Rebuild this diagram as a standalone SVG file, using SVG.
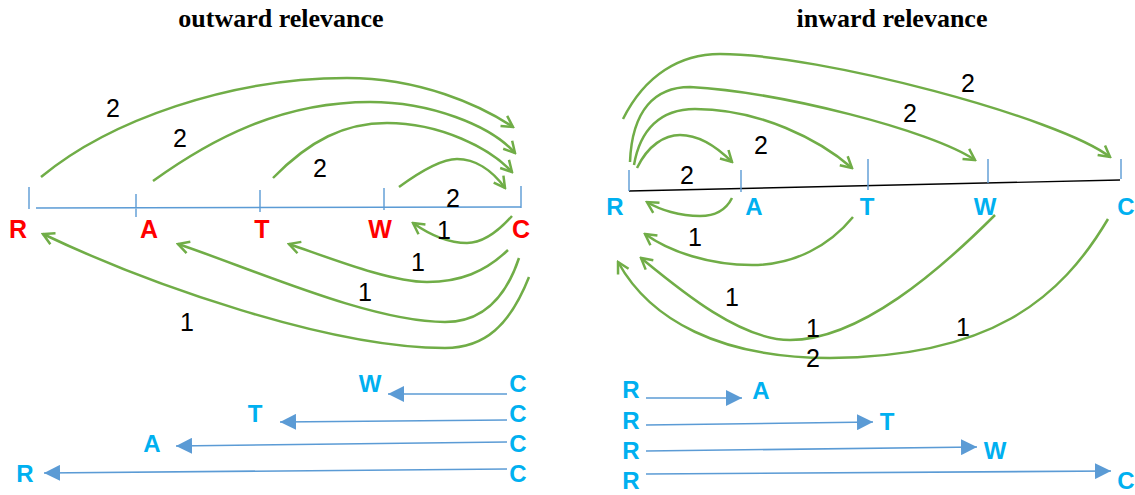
<svg xmlns="http://www.w3.org/2000/svg" width="1135" height="495" viewBox="0 0 1135 495">
<style>
.title{font-family:"Liberation Serif","Times New Roman",serif;font-weight:bold;font-size:26px;fill:#000;text-anchor:middle}
.red{font-family:"Liberation Sans",Arial,sans-serif;font-weight:bold;font-size:25px;fill:#FF0000;text-anchor:middle}
.blu{font-family:"Liberation Sans",Arial,sans-serif;font-weight:bold;font-size:24px;fill:#00B0F0;text-anchor:middle}
.num{font-family:"Liberation Sans",Arial,sans-serif;font-size:25px;fill:#000;text-anchor:middle}
.arc{fill:none;stroke:#70AD47;stroke-width:2.5;marker-end:url(#ga)}
.axis{fill:none;stroke:#5B9BD5;stroke-width:1.4}
.axk{fill:none;stroke:#000;stroke-width:1.4}
.seq{fill:none;stroke:#5B9BD5;stroke-width:1.6;marker-end:url(#ba)}
</style>
<defs>
<marker id="ga" viewBox="0 0 16 16" refX="14" refY="8" markerWidth="16" markerHeight="16" orient="auto" markerUnits="userSpaceOnUse"><path d="M3,2 L14,8 L3,14" fill="none" stroke="#70AD47" stroke-width="2.5"/></marker>
<marker id="ba" viewBox="0 0 16 16" refX="16" refY="8" markerWidth="16" markerHeight="16" orient="auto" markerUnits="userSpaceOnUse"><path d="M0,0 L16,8 L0,16 z" fill="#5B9BD5"/></marker>
</defs>
<rect width="1135" height="495" fill="#fff"/>
<text class="title" x="281" y="27">outward relevance</text>
<text class="title" x="892" y="27">inward relevance</text>

<g id="axis-outward">
<path class="axis" d="M36,208 L521,207 M29,187 L29,209 M136,194 L136,217 M260,190 L260,212 M384,188 L384,210 M521,186 L521,208"/>
</g>
<g id="axis-inward">
<path class="axk" d="M629,191 L1120,180"/>
<path class="axis" d="M629,170 L629,191 M741,170 L741,192 M868,159 L868,190 M988,159 L988,183 M1121,159 L1121,179"/>
</g>

<g id="out-R"><text class="red" x="18" y="238">R</text></g>
<g id="out-A"><text class="red" x="149" y="238">A</text></g>
<g id="out-T"><text class="red" x="262" y="238">T</text></g>
<g id="out-W"><text class="red" x="380" y="238">W</text></g>
<g id="out-C"><text class="red" x="521" y="238">C</text></g>

<g id="in-R"><text class="blu" x="615" y="215">R</text></g>
<g id="in-A"><text class="blu" x="754" y="215">A</text></g>
<g id="in-T"><text class="blu" x="867" y="215">T</text></g>
<g id="in-W"><text class="blu" x="985" y="215">W</text></g>
<g id="in-C"><text class="blu" x="1126" y="215">C</text></g>

<g id="seq-out">
<text class="blu" x="370" y="392">W</text><text class="blu" x="518" y="392">C</text>
<text class="blu" x="255" y="422">T</text><text class="blu" x="518" y="422">C</text>
<text class="blu" x="152" y="452">A</text><text class="blu" x="518" y="452">C</text>
<text class="blu" x="25" y="482">R</text><text class="blu" x="518" y="482">C</text>
</g>
<g id="seq-in">
<text class="blu" x="631" y="398">R</text><text class="blu" x="761" y="399">A</text>
<text class="blu" x="631" y="429">R</text><text class="blu" x="887" y="430">T</text>
<text class="blu" x="631" y="459">R</text><text class="blu" x="995" y="459">W</text>
<text class="blu" x="631" y="489">R</text><text class="blu" x="1126" y="489">C</text>
</g>

<g id="connectors">
<path class="arc" d="M41,177 C110,120 230,78 347,78 C420,78 480,105 513,127"/>
<path class="arc" d="M153,181 C210,140 280,102 370,102 C430,102 490,125 515,153"/>
<path class="arc" d="M273,178 C310,140 345,123 387,123 C440,123 490,148 512,172"/>
<path class="arc" d="M399,187 C425,168 445,159 457,159 C475,159 492,170 505,188"/>
<path class="arc" d="M512,216 C495,235 480,243 467,243 C450,243 430,235 413,223"/>
<path class="arc" d="M508,250 C485,272 460,282 427,282 C390,282 330,258 289,244"/>
<path class="arc" d="M519,258 C505,300 480,322 445,322 C370,322 250,268 178,244"/>
<path class="arc" d="M529,277 C510,325 485,348 445,348 C330,348 150,285 43,234"/>

<path class="arc" d="M623,119 C645,75 680,54 720,54 C820,54 1060,118 1110,157"/>
<path class="arc" d="M630,162 C632,110 655,87 690,87 C780,92 930,130 975,160"/>
<path class="arc" d="M634,165 C640,130 660,109 695,109 C760,109 820,140 852,168"/>
<path class="arc" d="M637,168 C648,145 665,135 680,135 C700,135 718,148 732,162"/>
<path class="arc" d="M732,198 C725,212 712,216 700,216 C680,216 660,210 647,202"/>
<path class="arc" d="M853,217 C830,245 795,265 752,265 C710,265 670,252 645,234"/>
<path class="arc" d="M995,215 C940,270 860,340 790,340 C740,340 680,290 641,258"/>
<path class="arc" d="M1108,219 C1060,300 990,357 830,358 C720,358 650,320 618,262"/>

<path class="seq" d="M507,394 L388,394"/>
<path class="seq" d="M507,420 L280,422"/>
<path class="seq" d="M507,442 L176,446"/>
<path class="seq" d="M507,469 L44,473"/>
<path class="seq" d="M646,398 L742,398"/>
<path class="seq" d="M646,425 L873,422"/>
<path class="seq" d="M646,451 L977,447"/>
<path class="seq" d="M646,474 L1111,471"/>
</g>

<g id="labels">
<text class="num" x="113" y="117">2</text>
<text class="num" x="180" y="147">2</text>
<text class="num" x="320" y="177">2</text>
<text class="num" x="453" y="207">2</text>
<text class="num" x="444" y="239">1</text>
<text class="num" x="418" y="271">1</text>
<text class="num" x="365" y="301">1</text>
<text class="num" x="187" y="331">1</text>
<text class="num" x="968" y="92">2</text>
<text class="num" x="910" y="122">2</text>
<text class="num" x="761" y="154">2</text>
<text class="num" x="687" y="184">2</text>
<text class="num" x="695" y="246">1</text>
<text class="num" x="732" y="306">1</text>
<text class="num" x="813" y="337">1</text>
<text class="num" x="963" y="336">1</text>
<text class="num" x="813" y="367">2</text>
</g>
</svg>
